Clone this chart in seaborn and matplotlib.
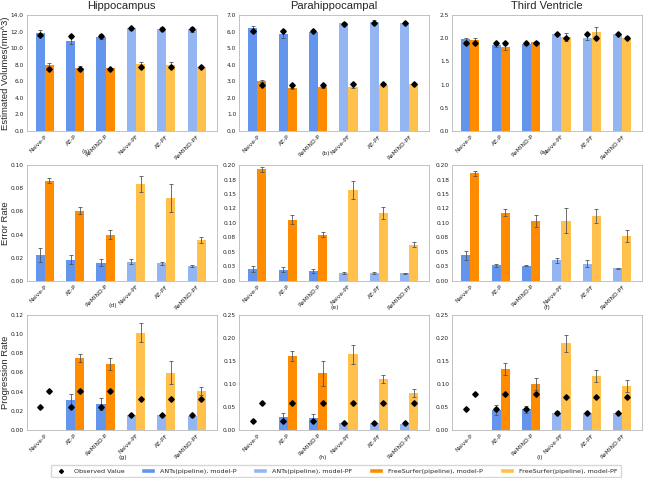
import numpy as np
import pandas as pd
import matplotlib
matplotlib.use("Agg")
import matplotlib.pyplot as plt
from matplotlib.lines import Line2D
from matplotlib.patches import Patch
from matplotlib.ticker import FormatStrFormatter
import seaborn as sns

models = ["Naive-P", "AE-P", "ReMIND-P", "Naive-PF", "AE-PF", "ReMIND-PF"]
regions = ["Hippocampus", "Parahippocampal", "Third Ventricle"]
metrics = ["Estimated Volumes(mm^3)", "Error Rate", "Progression Rate"]
tags = [["(a)", "(b)", "(c)"], ["(d)", "(e)", "(f)"], ["(g)", "(h)", "(i)"]]

# --- estimated volumes ---
hip_vol_ants = [11.79, 10.86, 11.38, 12.39, 12.31, 12.27]
hip_vol_ants_err = [0.36, 0.36, 0.3, 0.2, 0.28, 0.28]
hip_vol_fs = [7.96, 7.64, 7.56, 8.08, 7.96, 7.68]
hip_vol_fs_err = [0.2, 0.2, 0.1, 0.3, 0.32, 0.1]
hip_vol_obs_ants = [11.55, 11.5, 11.5, 12.39, 12.35, 12.35]
hip_vol_obs_fs = [7.5, 7.52, 7.52, 7.76, 7.76, 7.74]

para_vol_ants = [6.2, 5.83, 6.0, 6.5, 6.6, 6.5]
para_vol_ants_err = [0.12, 0.2, 0.04, 0.05, 0.12, 0.05]
para_vol_fs = [3.02, 2.57, 2.64, 2.68, 2.78, 2.84]
para_vol_fs_err = [0.07, 0.03, 0.03, 0.1, 0.03, 0.03]
para_vol_obs_ants = [6.06, 6.04, 6.02, 6.48, 6.5, 6.5]
para_vol_obs_fs = [2.78, 2.78, 2.78, 2.84, 2.84, 2.84]

tv_vol_ants = [1.98, 1.85, 1.87, 2.08, 2.01, 2.08]
tv_vol_ants_err = [0.03, 0.04, 0.02, 0.02, 0.05, 0.02]
tv_vol_fs = [1.96, 1.8, 1.91, 2.03, 2.14, 2.01]
tv_vol_fs_err = [0.04, 0.05, 0.04, 0.08, 0.1, 0.03]
tv_vol_obs_ants = [1.89, 1.89, 1.89, 2.08, 2.08, 2.08]
tv_vol_obs_fs = [1.89, 1.89, 1.89, 2.01, 2.01, 2.01]

# --- error rate ---
hip_err_ants = [0.0228, 0.0184, 0.0156, 0.0167, 0.0153, 0.013]
hip_err_ants_err = [0.006, 0.004, 0.003, 0.002, 0.0015, 0.0007]
hip_err_fs = [0.0865, 0.0605, 0.040, 0.0836, 0.0712, 0.0352]
hip_err_fs_err = [0.002, 0.003, 0.004, 0.007, 0.012, 0.0025]

para_err_ants = [0.0202, 0.0196, 0.0173, 0.0138, 0.0138, 0.0133]
para_err_ants_err = [0.005, 0.004, 0.003, 0.0015, 0.0015, 0.001]
para_err_fs = [0.1925, 0.106, 0.080, 0.157, 0.1176, 0.0628]
para_err_fs_err = [0.0046, 0.008, 0.004, 0.0155, 0.01, 0.005]

tv_err_ants = [0.0444, 0.0271, 0.0265, 0.0357, 0.030, 0.0219]
tv_err_ants_err = [0.008, 0.003, 0.001, 0.0046, 0.0058, 0.001]
tv_err_fs = [0.1856, 0.118, 0.1037, 0.1037, 0.1118, 0.0778]
tv_err_fs_err = [0.0043, 0.006, 0.01, 0.0216, 0.0115, 0.0107]

# --- progression rate ---
hip_prog_ants = [0.0, 0.0313, 0.0271, 0.0153, 0.0153, 0.0146]
hip_prog_ants_err = [0.0, 0.0063, 0.0065, 0.001, 0.001, 0.001]
hip_prog_fs = [0.0, 0.0748, 0.0689, 0.1016, 0.0598, 0.0407]
hip_prog_fs_err = [0.0, 0.004, 0.006, 0.0096, 0.0117, 0.004]
hip_prog_obs_ants = [0.0235, 0.0235, 0.0235, 0.0155, 0.0155, 0.0155]
hip_prog_obs_fs = [0.0405, 0.0405, 0.0405, 0.032, 0.032, 0.032]

para_prog_ants = [0.0, 0.0275, 0.0254, 0.0145, 0.0145, 0.0138]
para_prog_ants_err = [0.0, 0.009, 0.009, 0.001, 0.001, 0.001]
para_prog_fs = [0.0, 0.161, 0.123, 0.1645, 0.110, 0.0797]
para_prog_fs_err = [0.0, 0.011, 0.028, 0.02, 0.0087, 0.009]
para_prog_obs_ants = [0.0203, 0.0203, 0.0203, 0.0145, 0.0145, 0.0145]
para_prog_obs_fs = [0.0594, 0.0594, 0.0594, 0.058, 0.058, 0.058]

tv_prog_ants = [0.0, 0.0435, 0.045, 0.0377, 0.0377, 0.0362]
tv_prog_ants_err = [0.0, 0.01, 0.008, 0.003, 0.002, 0.001]
tv_prog_fs = [0.0, 0.1326, 0.100, 0.1884, 0.118, 0.0957]
tv_prog_fs_err = [0.0, 0.0127, 0.0127, 0.018, 0.0135, 0.0127]
tv_prog_obs_ants = [0.0457, 0.0457, 0.0457, 0.0362, 0.0362, 0.0362]
tv_prog_obs_fs = [0.079, 0.079, 0.079, 0.071, 0.071, 0.071]

panels = [
    [(hip_vol_ants, hip_vol_ants_err, hip_vol_fs, hip_vol_fs_err, hip_vol_obs_ants, hip_vol_obs_fs),
     (para_vol_ants, para_vol_ants_err, para_vol_fs, para_vol_fs_err, para_vol_obs_ants, para_vol_obs_fs),
     (tv_vol_ants, tv_vol_ants_err, tv_vol_fs, tv_vol_fs_err, tv_vol_obs_ants, tv_vol_obs_fs)],
    [(hip_err_ants, hip_err_ants_err, hip_err_fs, hip_err_fs_err, None, None),
     (para_err_ants, para_err_ants_err, para_err_fs, para_err_fs_err, None, None),
     (tv_err_ants, tv_err_ants_err, tv_err_fs, tv_err_fs_err, None, None)],
    [(hip_prog_ants, hip_prog_ants_err, hip_prog_fs, hip_prog_fs_err, hip_prog_obs_ants, hip_prog_obs_fs),
     (para_prog_ants, para_prog_ants_err, para_prog_fs, para_prog_fs_err, para_prog_obs_ants, para_prog_obs_fs),
     (tv_prog_ants, tv_prog_ants_err, tv_prog_fs, tv_prog_fs_err, tv_prog_obs_ants, tv_prog_obs_fs)],
]

y_tops = [[14, 7, 2.5], [0.10, 0.20, 0.20], [0.12, 0.25, 0.25]]
y_nticks = [[8, 8, 6], [6, 9, 9], [7, 6, 6]]
y_fmt = ["%.1f", "%.2f", "%.2f"]

# colours: model-P solid, model-PF lighter
ants_p, ants_pf = "#6495ED", "#93B5F2"
fs_p, fs_pf = "#FF8C00", "#FFC04C"

sns.set_style("white")
plt.rcParams["font.family"] = ["DejaVu Sans"]

W, H = 645, 478
fig = plt.figure(figsize=(W / 100, H / 100), dpi=100)

col_x = [26.5, 239, 452]
col_w = 190
row_top = [15, 165, 315]
row_h = [116, 116, 115]
tag_pos = [[(86, 152), (326, 154), (544, 153)],
           [(113, 306), (335, 307), (547, 307)],
           [(123, 458), (323, 458), (540, 457)]]

for r in range(3):
    for c in range(3):
        ants, ants_e, fs, fs_e, obs_a, obs_f = panels[r][c]
        ax = fig.add_axes([col_x[c] / W, 1 - (row_top[r] + row_h[r]) / H,
                           col_w / W, row_h[r] / H])
        df = pd.DataFrame({
            "model": models * 2,
            "pipeline": ["ANTs"] * 6 + ["FreeSurfer"] * 6,
            "value": list(ants) + list(fs),
        })
        sns.barplot(data=df, x="model", y="value", hue="pipeline", order=models,
                    hue_order=["ANTs", "FreeSurfer"], width=0.6, errorbar=None,
                    linewidth=0, legend=False, ax=ax)
        # recolour by model family
        for k, cont in enumerate(ax.containers):
            for i, bar in enumerate(cont):
                if k == 0:
                    bar.set_facecolor(ants_p if i < 3 else ants_pf)
                else:
                    bar.set_facecolor(fs_p if i < 3 else fs_pf)

        xs = np.arange(len(models))
        for off, vals, errs in [(-0.15, ants, ants_e), (0.15, fs, fs_e)]:
            keep = np.array(errs) > 0
            ax.errorbar(xs[keep] + off, np.array(vals)[keep], yerr=np.array(errs)[keep],
                        fmt="none", ecolor="#555555", elinewidth=0.6, capsize=1.3,
                        capthick=0.6)
        if obs_a is not None:
            ax.plot(xs - 0.15, obs_a, linestyle="none", marker="D", color="black",
                    markersize=2.8)
            ax.plot(xs + 0.15, obs_f, linestyle="none", marker="D", color="black",
                    markersize=2.8)

        ax.set_ylim(0, y_tops[r][c])
        ax.set_yticks(np.linspace(0, y_tops[r][c], y_nticks[r][c]))
        ax.yaxis.set_major_formatter(FormatStrFormatter(y_fmt[r]))
        ax.set_xlim(-0.6, 5.65)
        ax.set_xticks(xs)
        ax.set_xticklabels(models, rotation=45, ha="right", rotation_mode="anchor")
        ax.tick_params(axis="both", labelsize=4.2, pad=2, length=0, colors="#222222")
        ax.set_xlabel("")
        ax.set_ylabel("")
        for sp in ax.spines.values():
            sp.set_color("#b8b8b8")
            sp.set_linewidth(0.6)
        if r == 0:
            ax.set_title(regions[c], fontsize=8, family="Liberation Sans", pad=4)
        if c == 0:
            ax.set_ylabel(metrics[r], fontsize=6.8, family="Liberation Sans")
            ax.yaxis.set_label_coords(-0.085, 0.5)
        tx, ty = tag_pos[r][c]
        fig.text(tx / W, 1 - ty / H, tags[r][c], fontsize=4.3, ha="center",
                 va="center", color="#222222")

handles = [
    Line2D([], [], linestyle="none", marker="D", color="black", markersize=2),
    Patch(facecolor=ants_p), Patch(facecolor=ants_pf),
    Patch(facecolor=fs_p), Patch(facecolor=fs_pf),
]
labels = ["Observed Value", "ANTs(pipeline), model-P", "ANTs(pipeline), model-PF",
          "FreeSurfer(pipeline), model-P", "FreeSurfer(pipeline), model-PF"]
fig.legend(handles, labels, loc="center", bbox_to_anchor=(336 / W, 1 - 471 / H),
           ncol=5, fontsize=4.6, frameon=True, edgecolor="#cccccc", fancybox=True,
           shadow=False, handlelength=2.2, columnspacing=2.6, borderpad=0.5)

fig.savefig("out.png", dpi=100)
